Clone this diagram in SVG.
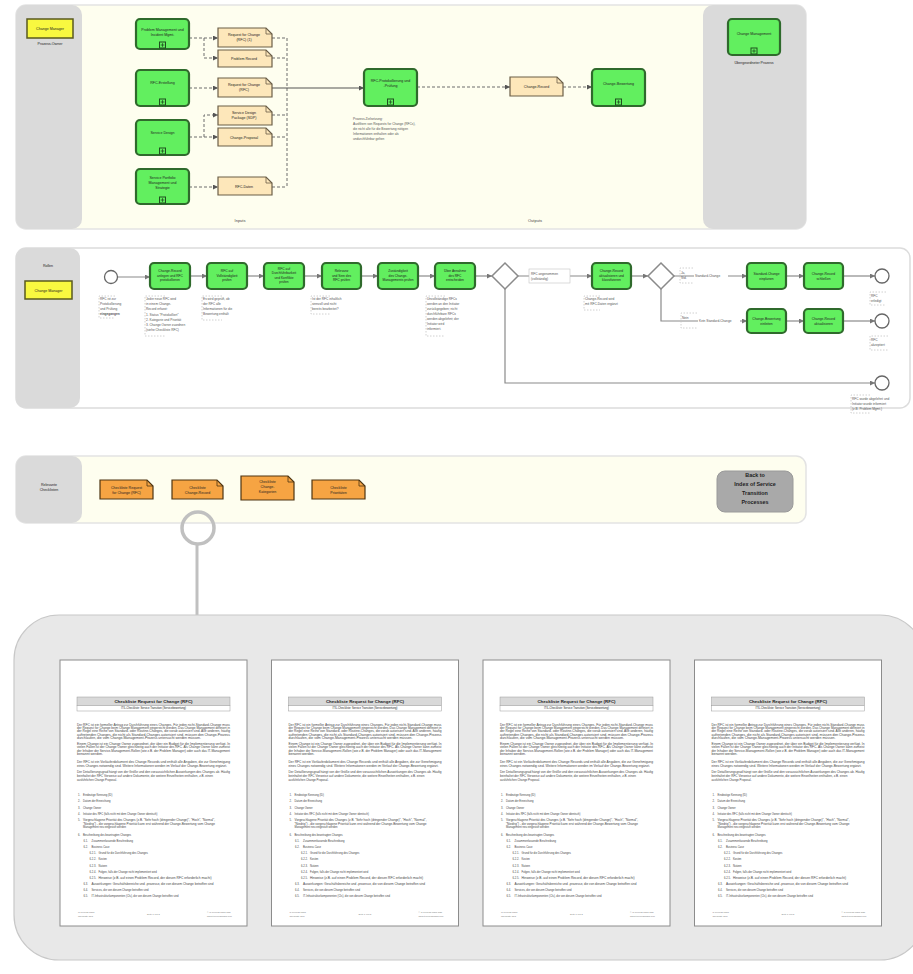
<svg xmlns="http://www.w3.org/2000/svg" width="913" height="974" viewBox="0 0 913 974">
<defs>
<style>
text{font-family:"Liberation Sans",Arial,sans-serif;fill:#222}
.lane{fill:#dadada}
.pool{fill:#fefeef;stroke:#e3e3e3;stroke-width:1.5}
.sub{fill:#62ef5f;stroke:#2f6a2c;stroke-width:2.2}
.doc{fill:#fde7ba;stroke:#6b5e47;stroke-width:1.2}
.fold{fill:none;stroke:#6b5e47;stroke-width:.8}
.odoc{fill:#f6a443;stroke:#4e3512;stroke-width:1.2}
.ofold{fill:none;stroke:#4e3512;stroke-width:.8}
.role{fill:#f8f840;stroke:#5a5a1e;stroke-width:1.5}
.dash{fill:none;stroke:#6d6d6d;stroke-width:1;stroke-dasharray:3 2}
.solid{fill:none;stroke:#555;stroke-width:1.2}
.flow{fill:none;stroke:#8a8a8a;stroke-width:1.2}
.gw{fill:#fff;stroke:#8a8a8a;stroke-width:1.5}
.ev{fill:#fff;stroke:#666;stroke-width:1.3}
.n{font-size:3.6px;text-anchor:middle}
.t{font-size:3.3px;text-anchor:middle}
.a{font-size:3.2px;fill:#555}
.ann{fill:none;stroke:#c4c4c4;stroke-width:.8;stroke-dasharray:1.5 1.5}
.lbl{font-size:4px;fill:#444;text-anchor:middle}
.pg{font-size:2.7px;fill:#444}
.pl{font-size:2.7px;fill:#444}
.ft{font-size:2.2px;fill:#777}
</style>
<marker id="ah" viewBox="0 0 6 6" refX="6" refY="3" markerWidth="5" markerHeight="5" markerUnits="userSpaceOnUse" orient="auto"><path d="M0,0 L6,3 L0,6 z" fill="#555"/></marker>
<marker id="ag" viewBox="0 0 6 6" refX="6" refY="3" markerWidth="5" markerHeight="5" markerUnits="userSpaceOnUse" orient="auto"><path d="M0,0 L6,3 L0,6 z" fill="#777"/></marker>
<g id="subMark"><rect x="-3" y="-3" width="6" height="6" fill="#62ef5f" stroke="#1f4f1f" stroke-width="1"/><path d="M-1.8,0H1.8M0,-1.8V1.8" stroke="#1f4f1f" stroke-width=".8"/></g>

<!-- one page of the RFC checklist, reused four times -->
<g id="rfcPage">
<rect width="187" height="266" fill="#fff" stroke="#8c8c8c" stroke-width="1"/>
<rect x="17" y="37" width="153" height="8.5" fill="#d9d9d9" stroke="#9a9a9a" stroke-width=".5"/>
<rect x="17" y="45.5" width="153" height="5.5" fill="#fff" stroke="#9a9a9a" stroke-width=".5"/>
<text x="93.5" y="43.2" font-size="4.4" font-weight="bold" text-anchor="middle">Checkliste Request for Change (RFC)</text>
<text x="93.5" y="49.3" font-size="2.7" text-anchor="middle" fill="#555">ITIL-Checkliste: Service Transition (Servicebewertung)</text>
<text class="pg" x="17" y="66" textLength="153" lengthAdjust="spacingAndGlyphs">Der RFC ist ein formeller Antrag zur Durchführung eines Changes. Für jeden nicht-Standard-Change muss</text>
<text class="pg" x="17" y="69.2" textLength="153" lengthAdjust="spacingAndGlyphs">der Request for Change beim Change Management eingereicht werden. Das Change Management definiert in</text>
<text class="pg" x="17" y="72.4" textLength="153" lengthAdjust="spacingAndGlyphs">der Regel eine Reihe von Standard- oder Routine-Changes, die vorab autorisiert sind. Alle anderen, häufig</text>
<text class="pg" x="17" y="75.6" textLength="153" lengthAdjust="spacingAndGlyphs">auftretenden Changes, die nicht als Standard-Changes autorisiert sind, müssen den Change-Prozess</text>
<text class="pg" x="17" y="78.8" textLength="124" lengthAdjust="spacingAndGlyphs">durchlaufen, die vom Change-Management-Prozess untersucht werden müssen.</text>
<text class="pg" x="17" y="85" textLength="153" lengthAdjust="spacingAndGlyphs">Einem Change ist ein Change Owner zugeordnet, der über ein Budget für die Implementierung verfügt. In</text>
<text class="pg" x="17" y="88.4" textLength="153" lengthAdjust="spacingAndGlyphs">vielen Fällen ist der Change Owner gleichzeitig auch der Initiator des RFC. Als Change Owner kann zumeist</text>
<text class="pg" x="17" y="91.8" textLength="153" lengthAdjust="spacingAndGlyphs">der Inhaber der Service-Management-Rollen (wie z.B. der Problem Manager) oder auch das IT-Management</text>
<text class="pg" x="17" y="95.2" textLength="26" lengthAdjust="spacingAndGlyphs">benannt werden.</text>
<text class="pg" x="17" y="103" textLength="153" lengthAdjust="spacingAndGlyphs">Der RFC ist ein Vorläuferdokument des Change Records und enthält alle Angaben, die zur Genehmigung</text>
<text class="pg" x="17" y="106.6" textLength="150" lengthAdjust="spacingAndGlyphs">eines Changes notwendig sind. Weitere Informationen werden im Verlauf der Change-Bewertung ergänzt.</text>
<text class="pg" x="17" y="113" textLength="153" lengthAdjust="spacingAndGlyphs">Der Detaillierungsgrad hängt von der Größe und den voraussichtlichen Auswirkungen des Changes ab. Häufig</text>
<text class="pg" x="17" y="116.8" textLength="136" lengthAdjust="spacingAndGlyphs">beinhaltet der RFC Verweise auf andere Dokumente, die weitere Einzelheiten enthalten, z.B. einen</text>
<text class="pg" x="17" y="120.6" textLength="40" lengthAdjust="spacingAndGlyphs">ausführlichen Change Proposal.</text>

<text class="pl" x="18" y="136">1.</text><text class="pl" x="23" y="136">Eindeutige Kennung (ID)</text>
<text class="pl" x="18" y="142.3">2.</text><text class="pl" x="23" y="142.3">Datum der Einreichung</text>
<text class="pl" x="18" y="148.6">3.</text><text class="pl" x="23" y="148.6">Change Owner</text>
<text class="pl" x="18" y="154.9">4.</text><text class="pl" x="23" y="154.9">Initiator des RFC (falls nicht mit dem Change Owner identisch)</text>
<text class="pl" x="18" y="161.2">5.</text><text class="pl" x="23" y="161.2" textLength="132" lengthAdjust="spacingAndGlyphs">Vorgeschlagene Priorität des Changes (z.B. "Sehr hoch (dringender Change)", "Hoch", "Normal",</text>
<text class="pl" x="23" y="164.7" textLength="132" lengthAdjust="spacingAndGlyphs">"Niedrig") - die vorgeschlagene Priorität kann erst während der Change-Bewertung vom Change</text>
<text class="pl" x="23" y="168.2">Management neu eingestuft werden</text>
<text class="pl" x="18" y="176">6.</text><text class="pl" x="23" y="176">Beschreibung des beantragten Changes</text>
<text class="pl" x="23.5" y="182">6.1.</text><text class="pl" x="31.5" y="182">Zusammenfassende Beschreibung</text>
<text class="pl" x="23.5" y="188">6.2.</text><text class="pl" x="31.5" y="188">Business Case</text>
<text class="pl" x="29.5" y="194">6.2.1.</text><text class="pl" x="38.5" y="194">Grund für die Durchführung des Changes</text>
<text class="pl" x="29.5" y="200">6.2.2.</text><text class="pl" x="38.5" y="200">Kosten</text>
<text class="pl" x="29.5" y="206.5">6.2.3.</text><text class="pl" x="38.5" y="206.5">Nutzen</text>
<text class="pl" x="29.5" y="213">6.2.4.</text><text class="pl" x="38.5" y="213">Folgen, falls der Change nicht implementiert wird</text>
<text class="pl" x="29.5" y="219">6.2.5.</text><text class="pl" x="38.5" y="219" textLength="113" lengthAdjust="spacingAndGlyphs">Hinweise (z.B. auf einen Problem Record, der diesen RFC erforderlich macht)</text>
<text class="pl" x="23.5" y="225">6.3.</text><text class="pl" x="31.5" y="225" textLength="122" lengthAdjust="spacingAndGlyphs">Auswirkungen: Geschäftsbereiche und -prozesse, die von diesem Change betroffen sind</text>
<text class="pl" x="23.5" y="231">6.4.</text><text class="pl" x="31.5" y="231">Services, die von diesem Change betroffen sind</text>
<text class="pl" x="23.5" y="237">6.5.</text><text class="pl" x="31.5" y="237">IT-Infrastrukturkomponenten (CIs), die von diesem Change betroffen sind</text>

<text class="ft" x="18" y="253">IT Process Maps</text>
<text class="ft" x="18" y="256.5">Checkliste RFC</text>
<text class="ft" x="87" y="254.5">Seite 1 von 2</text>
<text class="ft" x="147" y="253">© IT Process Maps GbR</text>
<text class="ft" x="147" y="256.5">www.it-processmaps.com</text>
</g>
</defs>

<rect width="913" height="974" fill="#fff"/>

<!-- ===== Panel 1: process overview (inputs / outputs) ===== -->
<g id="overview">
<rect class="pool" x="16" y="5" width="790" height="224" rx="10"/>
<rect class="lane" x="16" y="5" width="66" height="224" rx="10"/>
<rect class="lane" x="703" y="5" width="103" height="224" rx="10"/>
<text class="lbl" x="240" y="222">Inputs</text>
<text class="lbl" x="535" y="222">Outputs</text>
</g>

<g id="owner">
<rect class="role" x="27" y="19" width="46" height="19"/>
<text class="n" x="50" y="30">Change Manager</text>
<text class="n" x="50" y="45" fill="#444">Prozess-Owner</text>
</g>

<g id="connectors-overview">
<path class="dash" d="M189,38H218" marker-end="url(#ah)"/>
<path class="dash" d="M204,38V58H218" marker-end="url(#ah)"/>
<path class="dash" d="M189,88H218" marker-end="url(#ah)"/>
<path class="dash" d="M189,137H218" marker-end="url(#ah)"/>
<path class="dash" d="M204,137V115H218" marker-end="url(#ah)"/>
<path class="dash" d="M189,187H218" marker-end="url(#ah)"/>
<path class="dash" d="M272,38H287M272,58H287M272,115H287M272,137H287M272,187H287M287,38V187"/>
<path class="solid" d="M272,88H364" marker-end="url(#ah)"/>
<path class="dash" d="M417,87H510" marker-end="url(#ah)"/>
<path class="dash" d="M563,87H592" marker-end="url(#ah)"/>
</g>

<g id="in-problem-mgmt">
<rect class="sub" x="136" y="19" width="53" height="30" rx="4"/>
<text class="n" x="162.5" y="31">Problem Management und</text>
<text class="n" x="162.5" y="36">Incident Mgmt.</text>
<use href="#subMark" x="162.5" y="45"/>
</g>
<g id="in-rfc-creation">
<rect class="sub" x="136" y="70" width="53" height="36" rx="4"/>
<text class="n" x="162.5" y="84">RFC-Erstellung</text>
<use href="#subMark" x="162.5" y="102"/>
</g>
<g id="in-service-design">
<rect class="sub" x="136" y="120" width="53" height="35" rx="4"/>
<text class="n" x="162.5" y="134">Service Design</text>
<use href="#subMark" x="162.5" y="151"/>
</g>
<g id="in-portfolio">
<rect class="sub" x="136" y="169" width="53" height="35" rx="4"/>
<text class="n" x="162.5" y="179">Service Portfolio</text>
<text class="n" x="162.5" y="184">Management und</text>
<text class="n" x="162.5" y="189">Strategie</text>
<use href="#subMark" x="162.5" y="200"/>
</g>

<g id="doc-rfc-1">
<path class="doc" d="M218,28H266L272,34V47H218Z"/><path class="fold" d="M266,28V34H272"/>
<text class="n" x="244" y="36">Request for Change</text>
<text class="n" x="244" y="41">(RFC) (1)</text>
</g>
<g id="doc-problem-record">
<path class="doc" d="M218,50H266L272,56V67H218Z"/><path class="fold" d="M266,50V56H272"/>
<text class="n" x="244" y="60">Problem Record</text>
</g>
<g id="doc-rfc-2">
<path class="doc" d="M218,78H266L272,84V97H218Z"/><path class="fold" d="M266,78V84H272"/>
<text class="n" x="244" y="86">Request for Change</text>
<text class="n" x="244" y="91">(RFC)</text>
</g>
<g id="doc-sdp">
<path class="doc" d="M218,106H266L272,112V125H218Z"/><path class="fold" d="M266,106V112H272"/>
<text class="n" x="244" y="114">Service Design</text>
<text class="n" x="244" y="119">Package (SDP)</text>
</g>
<g id="doc-change-proposal">
<path class="doc" d="M218,128H266L272,134V146H218Z"/><path class="fold" d="M266,128V134H272"/>
<text class="n" x="244" y="138.5">Change-Proposal</text>
</g>
<g id="doc-rfc-data">
<path class="doc" d="M218,177H266L272,183V195H218Z"/><path class="fold" d="M266,177V183H272"/>
<text class="n" x="244" y="187.5">RFC-Daten</text>
</g>

<g id="proc-rfc-logging">
<rect class="sub" x="364" y="69" width="53" height="37" rx="4"/>
<text class="n" x="390.5" y="82">RFC-Protokollierung und</text>
<text class="n" x="390.5" y="87">-Prüfung</text>
<use href="#subMark" x="390.5" y="102"/>
<text class="a" x="353" y="120">Prozess-Zielsetzung:</text>
<text class="a" x="353" y="125">Ausfiltern von Requests for Change (RFCs),</text>
<text class="a" x="353" y="130">die nicht alle für die Bewertung nötigen</text>
<text class="a" x="353" y="135">Informationen enthalten oder als</text>
<text class="a" x="353" y="140">undurchführbar gelten</text>
</g>

<g id="doc-change-record">
<path class="doc" d="M510,77H557L563,83V96H510Z"/><path class="fold" d="M557,77V83H563"/>
<text class="n" x="536.5" y="88">Change-Record</text>
</g>

<g id="out-change-assessment">
<rect class="sub" x="592" y="69" width="53" height="37" rx="4"/>
<text class="n" x="618.5" y="85">Change-Bewertung</text>
<use href="#subMark" x="618.5" y="102"/>
</g>

<g id="parent-process">
<rect class="sub" x="728" y="19" width="52" height="36" rx="4"/>
<text class="n" x="754" y="35">Change Management</text>
<use href="#subMark" x="754" y="51"/>
<text class="n" x="754" y="64" fill="#444">Übergeordneter Prozess</text>
</g>

<!-- ===== Panel 2: process flow ===== -->
<g id="flow-pool">
<rect x="16" y="248" width="894" height="160" rx="10" fill="#fff" stroke="#dcdcdc" stroke-width="1.5"/>
<rect class="lane" x="16" y="248" width="64" height="160" rx="10"/>
<text class="n" x="48" y="267" fill="#444">Rollen</text>
</g>
<g id="role-change-manager">
<rect class="role" x="25" y="281" width="47" height="18"/>
<text class="n" x="48.5" y="291.5">Change Manager</text>
</g>

<g id="connectors-flow">
<path class="flow" d="M117.5,277H150" marker-end="url(#ag)"/>
<path class="flow" d="M190,276H207" marker-end="url(#ag)"/>
<path class="flow" d="M247,276H264" marker-end="url(#ag)"/>
<path class="flow" d="M304,276H322" marker-end="url(#ag)"/>
<path class="flow" d="M361,276H378" marker-end="url(#ag)"/>
<path class="flow" d="M418,276H435" marker-end="url(#ag)"/>
<path class="flow" d="M475,276H492" marker-end="url(#ag)"/>
<path class="flow" d="M518,276H592" marker-end="url(#ag)"/>
<path class="flow" d="M631,276H648" marker-end="url(#ag)"/>
<path class="flow" d="M674,276H747" marker-end="url(#ag)"/>
<path class="flow" d="M786,276H804" marker-end="url(#ag)"/>
<path class="flow" d="M843,276H875" marker-end="url(#ag)"/>
<path class="flow" d="M661,289V321H747" marker-end="url(#ag)"/>
<path class="flow" d="M786,321H804" marker-end="url(#ag)"/>
<path class="flow" d="M843,321H875" marker-end="url(#ag)"/>
<path class="flow" d="M505,289V383H875" marker-end="url(#ag)"/>
</g>

<g id="start">
<circle class="ev" cx="111" cy="277" r="6.5"/>
<path class="ann" d="M115,296H99V318H115"/>
<text class="a" x="100" y="300">RFC ist zur</text>
<text class="a" x="100" y="305">Protokollierung</text>
<text class="a" x="100" y="310">und Prüfung</text>
<text class="a" x="100" y="315" font-weight="bold">eingegangen</text>
</g>

<g id="task-log">
<rect class="sub" x="150" y="263" width="40" height="26" rx="4"/>
<text class="t" x="170" y="272">Change-Record</text>
<text class="t" x="170" y="276.5">anlegen und RFC</text>
<text class="t" x="170" y="281">protokollieren</text>
<path class="ann" d="M165,296H145V336H165"/>
<text class="a" x="146" y="300">Jeder neue RFC wird</text>
<text class="a" x="146" y="305">in einem Change-</text>
<text class="a" x="146" y="310">Record erfasst:</text>
<text class="a" x="146" y="315.5">1. Status "Protokolliert"</text>
<text class="a" x="146" y="320.5">2. Kategorie und Priorität</text>
<text class="a" x="146" y="325.5">3. Change Owner zuordnen</text>
<text class="a" x="146" y="331">(siehe Checkliste RFC)</text>
</g>

<g id="task-complete">
<rect class="sub" x="207" y="263" width="40" height="26" rx="4"/>
<text class="t" x="227" y="272">RFC auf</text>
<text class="t" x="227" y="276.5">Vollständigkeit</text>
<text class="t" x="227" y="281">prüfen</text>
<path class="ann" d="M222,296H202V320H222"/>
<text class="a" x="203" y="300">Es wird geprüft, ob</text>
<text class="a" x="203" y="305">der RFC alle</text>
<text class="a" x="203" y="310">Informationen für die</text>
<text class="a" x="203" y="315">Bewertung enthält</text>
</g>

<g id="task-feasible">
<rect class="sub" x="264" y="263" width="40" height="26" rx="4"/>
<text class="t" x="284" y="270">RFC auf</text>
<text class="t" x="284" y="274.3">Durchführbarkeit</text>
<text class="t" x="284" y="278.6">und Konflikte</text>
<text class="t" x="284" y="283">prüfen</text>
</g>

<g id="task-relevance">
<rect class="sub" x="322" y="263" width="39" height="26" rx="4"/>
<text class="t" x="341.5" y="272">Relevanz</text>
<text class="t" x="341.5" y="276.5">und Sinn des</text>
<text class="t" x="341.5" y="281">RFC prüfen</text>
<path class="ann" d="M330,296H311V314H330"/>
<text class="a" x="312" y="300">Ist der RFC inhaltlich</text>
<text class="a" x="312" y="305">sinnvoll und nicht</text>
<text class="a" x="312" y="310">bereits bearbeitet?</text>
</g>

<g id="task-scope">
<rect class="sub" x="378" y="263" width="40" height="26" rx="4"/>
<text class="t" x="398" y="272">Zuständigkeit</text>
<text class="t" x="398" y="276.5">des Change-</text>
<text class="t" x="398" y="281">Managements prüfen</text>
</g>

<g id="task-decide">
<rect class="sub" x="435" y="263" width="40" height="26" rx="4"/>
<text class="t" x="455" y="272">Über Annahme</text>
<text class="t" x="455" y="276.5">des RFC</text>
<text class="t" x="455" y="281">entscheiden</text>
<path class="ann" d="M445,296H426V336H445"/>
<text class="a" x="427" y="300">Unvollständige RFCs</text>
<text class="a" x="427" y="305">werden an den Initiator</text>
<text class="a" x="427" y="310">zurückgegeben; nicht</text>
<text class="a" x="427" y="315">durchführbare RFCs</text>
<text class="a" x="427" y="320">werden abgelehnt; der</text>
<text class="a" x="427" y="325">Initiator wird</text>
<text class="a" x="427" y="330">informiert.</text>
</g>

<g id="gateway-accepted">
<path class="gw" d="M505,263L518,276L505,289L492,276Z"/>
<rect x="529" y="269" width="41" height="14" fill="#fff" stroke="#c4c4c4" stroke-width=".6"/>
<text class="a" x="531" y="274.5">RFC angenommen</text>
<text class="a" x="531" y="279.5">(vollständig)</text>
</g>

<g id="task-classify">
<rect class="sub" x="592" y="263" width="39" height="26" rx="4"/>
<text class="t" x="611.5" y="272">Change-Record</text>
<text class="t" x="611.5" y="276.5">aktualisieren und</text>
<text class="t" x="611.5" y="281">klassifizieren</text>
<path class="ann" d="M600,296H584V310H600"/>
<text class="a" x="585" y="300">Change-Record wird</text>
<text class="a" x="585" y="305">mit RFC-Daten ergänzt</text>
</g>

<g id="gateway-type">
<path class="gw" d="M661,263L674,276L661,289L648,276Z"/>
<path class="ann" d="M693,268H680V283H693"/>
<text class="a" x="681" y="273.5">Ja,</text>
<text class="a" x="681" y="278.5">Std.</text>
<rect x="694" y="272.5" width="34" height="5" fill="#fff"/>
<text class="a" x="695" y="276.5">Standard-Change</text>
<path class="ann" d="M697,313H681V328H697"/>
<text class="a" x="682" y="318.5">Nein</text>
<rect x="698" y="317.5" width="42" height="5" fill="#fff"/>
<text class="a" x="699" y="321.5">Kein Standard-Change</text>
</g>

<g id="task-std-plan">
<rect class="sub" x="747" y="263" width="39" height="26" rx="4"/>
<text class="t" x="766.5" y="275">Standard-Change</text>
<text class="t" x="766.5" y="279.5">einplanen</text>
</g>
<g id="task-close">
<rect class="sub" x="804" y="263" width="39" height="26" rx="4"/>
<text class="t" x="823.5" y="275">Change-Record</text>
<text class="t" x="823.5" y="279.5">schließen</text>
</g>
<g id="end-done">
<circle class="ev" cx="882" cy="276" r="7"/>
<path class="ann" d="M886,292H870V305H886"/>
<text class="a" x="871" y="297">RFC</text>
<text class="a" x="871" y="302">erledigt</text>
</g>

<g id="task-assess">
<rect class="sub" x="747" y="309" width="39" height="24" rx="4"/>
<text class="t" x="766.5" y="320">Change-Bewertung</text>
<text class="t" x="766.5" y="324.5">einleiten</text>
</g>
<g id="task-update">
<rect class="sub" x="804" y="309" width="39" height="24" rx="4"/>
<text class="t" x="823.5" y="320">Change-Record</text>
<text class="t" x="823.5" y="324.5">aktualisieren</text>
</g>
<g id="end-accepted">
<circle class="ev" cx="882" cy="321" r="7"/>
<path class="ann" d="M888,336H870V350H888"/>
<text class="a" x="871" y="341">RFC</text>
<text class="a" x="871" y="346">akzeptiert</text>
</g>

<g id="end-rejected">
<circle class="ev" cx="882" cy="383" r="7"/>
<path class="ann" d="M870,395H851V413H870"/>
<text class="a" x="852" y="400">RFC wurde abgelehnt und</text>
<text class="a" x="852" y="405">Initiator wurde informiert</text>
<text class="a" x="852" y="410">(z.B. Problem Mgmt.)</text>
</g>

<!-- ===== Panel 3: checklists ===== -->
<g id="checklist-pool">
<rect class="pool" x="16" y="456" width="790" height="67" rx="10"/>
<rect class="lane" x="16" y="456" width="66" height="67" rx="10"/>
<text class="n" x="49" y="486">Relevante</text>
<text class="n" x="49" y="491">Checklisten</text>
</g>
<g id="cl-rfc">
<path class="odoc" d="M100,480H147L153,486V499H100Z"/><path class="ofold" d="M147,480V486H153"/>
<text class="n" x="126.5" y="488.5">Checkliste Request</text>
<text class="n" x="126.5" y="493.5">for Change (RFC)</text>
</g>
<g id="cl-record">
<path class="odoc" d="M172,480H217L223,486V499H172Z"/><path class="ofold" d="M217,480V486H223"/>
<text class="n" x="197.5" y="488.5">Checkliste</text>
<text class="n" x="197.5" y="493.5">Change-Record</text>
</g>
<g id="cl-categories">
<path class="odoc" d="M241,476H288L294,482V500H241Z"/><path class="ofold" d="M288,476V482H294"/>
<text class="n" x="267.5" y="483">Checkliste</text>
<text class="n" x="267.5" y="488">Change-</text>
<text class="n" x="267.5" y="493">Kategorien</text>
</g>
<g id="cl-priorities">
<path class="odoc" d="M312,480H359L365,486V499H312Z"/><path class="ofold" d="M359,480V486H365"/>
<text class="n" x="338.5" y="488.5">Checkliste</text>
<text class="n" x="338.5" y="493.5">Prioritäten</text>
</g>
<g id="back-button">
<rect x="717" y="471" width="76" height="41" rx="8" fill="#a9a9a9" stroke="#9a9a9a" stroke-width="1"/>
<text x="755" y="477" font-size="5.4" fill="#fff" text-anchor="middle" font-weight="bold">Back to</text>
<text x="755" y="486" font-size="5.4" fill="#fff" text-anchor="middle" font-weight="bold">Index of Service</text>
<text x="755" y="495" font-size="5.4" fill="#fff" text-anchor="middle" font-weight="bold">Transition</text>
<text x="755" y="504" font-size="5.4" fill="#fff" text-anchor="middle" font-weight="bold">Processes</text>
</g>

<!-- ===== callout: checklist pages ===== -->
<g id="callout-link">
<circle cx="198" cy="528" r="16" fill="none" stroke="#c0c0c0" stroke-width="3.5"/>
<path d="M197,544V615" stroke="#c0c0c0" stroke-width="3"/>
</g>
<g id="checklist-pages">
<rect x="14" y="615" width="911" height="345" rx="45" fill="#e8e8e8" stroke="#c8c8c8" stroke-width="1.2"/>
<use href="#rfcPage" x="60" y="660"/>
<use href="#rfcPage" x="271.5" y="660"/>
<use href="#rfcPage" x="483" y="660"/>
<use href="#rfcPage" x="694.5" y="660"/>
</g>
</svg>
